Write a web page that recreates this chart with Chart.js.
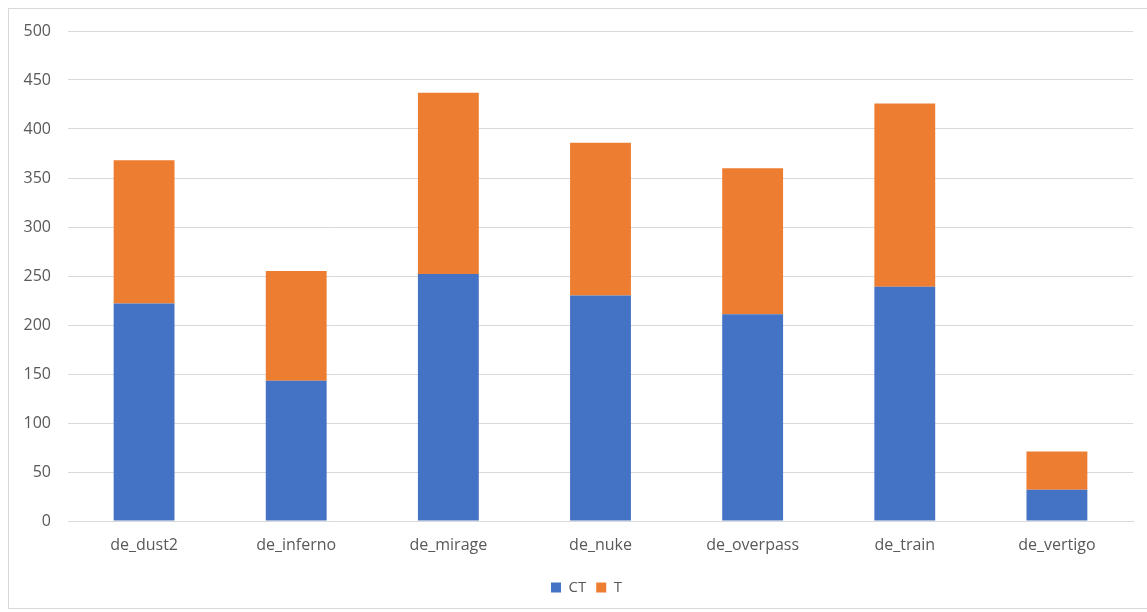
<!DOCTYPE html>
<html>
<head>
<meta charset="utf-8">
<script src="https://cdn.jsdelivr.net/npm/chart.js@4.4.1/dist/chart.umd.min.js"></script>
<style>
  html, body { margin: 0; padding: 0; background: #ffffff; }
  #frame { position: absolute; left: 8px; top: 8px; width: 1145px; height: 601px; border: 1px solid #d9d9d9; box-sizing: border-box; }
  #wrap { position: absolute; left: 0; top: 0; width: 1147px; height: 612px; }
</style>
</head>
<body>
<div id="frame"></div>
<div id="wrap"><canvas id="c" width="1147" height="612"></canvas></div>
<script>
const categories = ['de_dust2', 'de_inferno', 'de_mirage', 'de_nuke', 'de_overpass', 'de_train', 'de_vertigo'];
const ctValues = [222, 143, 252, 230, 211, 239, 32];
const tValues = [146, 112, 185, 156, 149, 187, 39];
const yTicks = [0, 50, 100, 150, 200, 250, 300, 350, 400, 450, 500];

const FONT = '"Open Sans", "Noto Sans", sans-serif';
const TEXT = '#595959';

const legendShift = {
  id: 'legendShift',
  afterLayout(chart) {
    const lg = chart.legend;
    if (lg) { lg.left += 20; lg.right += 20; lg.top += 5; lg.bottom += 5; }
  }
};

new Chart(document.getElementById('c'), {
  type: 'bar',
  data: {
    labels: categories,
    datasets: [
      { label: 'CT', data: ctValues, backgroundColor: '#4472C4', borderWidth: 0 },
      { label: 'T', data: tValues, backgroundColor: '#ED7D31', borderWidth: 0 }
    ]
  },
  options: {
    responsive: false,
    animation: false,
    devicePixelRatio: 1,
    layout: { padding: { left: 0, right: 14, top: 31, bottom: 12 } },
    datasets: { bar: { categoryPercentage: 1.0, barPercentage: 0.4 } },
    scales: {
      x: {
        stacked: true,
        grid: { display: false, drawTicks: false },
        border: { display: true, color: '#d9d9d9' },
        ticks: { color: TEXT, font: { family: FONT, size: 16 }, padding: 15 },
        afterFit: (s) => { s.height = 44; }
      },
      y: {
        stacked: true,
        min: 0, max: 500,
        afterFit: (s) => { s.width = 68; },
        afterBuildTicks: (s) => { s.ticks = yTicks.map(v => ({ value: v })); },
        grid: { color: '#d9d9d9', drawTicks: false },
        border: { display: false },
        ticks: { color: TEXT, font: { family: FONT, size: 16 }, padding: 17 }
      }
    },
    plugins: {
      legend: {
        position: 'bottom',
        labels: {
          color: TEXT, font: { family: FONT, size: 15 },
          boxWidth: 10, boxHeight: 10, padding: 10
        }
      },
      tooltip: { enabled: false }
    }
  },
  plugins: [legendShift]
});
</script>
</body>
</html>
